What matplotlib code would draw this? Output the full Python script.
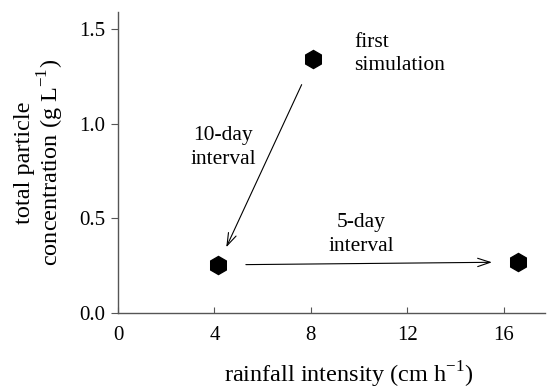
import matplotlib
matplotlib.use("Agg")
import matplotlib.pyplot as plt

# Data
rainfall = [8.1, 4.15, 16.6]           # cm h^-1
concentration = [1.34, 0.255, 0.27]    # g L^-1
x_ticks = [0, 4, 8, 12, 16]
y_ticks = [0.0, 0.5, 1.0, 1.5]
y_tick_labels = ["0.0", "0.5", "1.0", "1.5"]

plt.rcParams['font.family'] = ['Liberation Serif', 'DejaVu Serif']

fig = plt.figure(figsize=(5.52, 3.90), dpi=100)
ax = fig.add_axes([0.2138, 0.197, 0.987 - 0.2138, 0.969 - 0.197])

ax.plot(rainfall, concentration, linestyle='none', marker='h',
        markersize=13, color='black')

ax.set_xlim(0, 17.7)
ax.set_ylim(0, 1.59)
ax.set_xticks(x_ticks)
ax.set_yticks(y_ticks)
ax.set_yticklabels(y_tick_labels)

for s in ['top', 'right']:
    ax.spines[s].set_visible(False)
for s in ['left', 'bottom']:
    ax.spines[s].set_color('#555555')
    ax.spines[s].set_linewidth(1.0)

ax.tick_params(axis='x', direction='in', length=4, width=0.8, color='#555555',
               labelsize=15, pad=9)
ax.tick_params(axis='y', direction='out', length=5, width=0.8, color='#555555',
               labelsize=15, pad=4)

ax.set_xlabel('rainfall intensity (cm h$^{\\mathregular{-1}}$)', fontsize=17.5, labelpad=9)
ax.xaxis.set_label_coords(0.54, -0.155)
ax.set_ylabel('total particle\nconcentration (g L$^{\\mathregular{-1}}$)', fontsize=17.5,
              labelpad=10, linespacing=1.0)

arrow_style = dict(arrowstyle='->,head_length=0.9,head_width=0.3', color='black', lw=0.8)
ax.annotate('', xy=(rainfall[1], concentration[1]), xytext=(rainfall[0], concentration[0]),
            arrowprops=dict(shrinkA=20, shrinkB=14, **arrow_style))
ax.annotate('', xy=(rainfall[2], concentration[2]), xytext=(rainfall[1], concentration[1]),
            arrowprops=dict(shrinkA=20, shrinkB=19, **arrow_style))

txt = dict(fontsize=15.5, va='center', linespacing=1.3)
ax.text(9.8, 1.37, 'first\nsimulation', ha='left', **txt)
ax.text(4.35, 0.875, '10-day\ninterval', ha='center', **txt)
ax.text(10.1, 0.415, '5-day\ninterval', ha='center', **txt)

fig.savefig('out.png', dpi=100)
